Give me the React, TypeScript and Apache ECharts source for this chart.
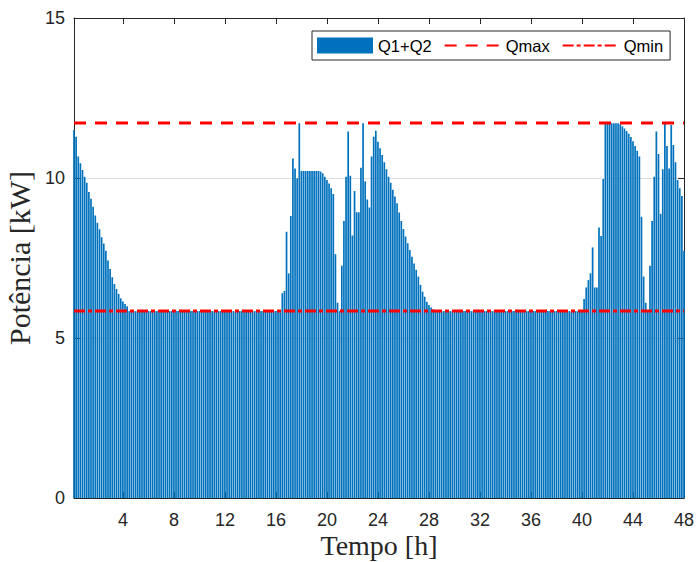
import React, { useEffect, useRef } from "react";
import * as echarts from "echarts";

// Q1+Q2 power per 10-minute step (kW), 288 steps over 48 h
const Q_SUM: number[] = [
  // 0-4.5 h decline
  11.50, 11.29, 10.67, 10.46, 10.25, 10.04, 9.85, 9.56, 9.35, 9.10, 8.83, 8.60, 8.40,
  8.15, 7.95, 7.73, 7.42, 7.16, 6.90, 6.69, 6.53, 6.38, 6.24, 6.14, 6.06, 5.99,
  // baseline (bars 27-98)
  5.84, 5.84, 5.84, 5.84, 5.84, 5.84, 5.84, 5.84, 5.84, 5.84, 5.84, 5.84,
  5.84, 5.84, 5.84, 5.84, 5.84, 5.84, 5.84, 5.84, 5.84, 5.84, 5.84, 5.84,
  5.84, 5.84, 5.84, 5.84, 5.84, 5.84, 5.84, 5.84, 5.84, 5.84, 5.84, 5.84,
  5.84, 5.84, 5.84, 5.84, 5.84, 5.84, 5.84, 5.84, 5.84, 5.84, 5.84, 5.84,
  5.84, 5.84, 5.84, 5.84, 5.84, 5.84, 5.84, 5.84, 5.84, 5.84, 5.84, 5.84,
  5.84, 5.84, 5.84, 5.84, 5.84, 5.84, 5.84, 5.84, 5.84, 5.84, 5.84, 5.84,
  // 16.5-28.5 h
  6.40, 6.47, 8.32, 7.02, 8.81, 10.61, 10.30, 9.99, 11.71,
  10.22, 10.22, 10.22, 10.22, 10.22, 10.22, 10.22, 10.22, 10.22, 10.20,
  10.15, 10.04, 9.94, 9.83, 9.68, 9.50, 7.62, 6.10, 5.84,
  7.26, 8.66, 10.04, 11.45, 10.07, 8.20, 9.59, 8.93, 8.93, 10.32, 11.71, 9.89,
  9.33, 9.08, 10.67, 11.29, 11.48, 11.13, 10.93, 10.72, 10.49, 10.27, 10.04,
  9.85, 9.63, 9.42, 9.21, 8.92, 8.66, 8.41, 8.17, 7.96, 7.75, 7.54, 7.33,
  7.13, 6.92, 6.66, 6.45, 6.29, 6.13, 6.03, 5.95, 5.90,
  // baseline (bars 171-240)
  5.84, 5.84, 5.84, 5.84, 5.84, 5.84, 5.84, 5.84, 5.84, 5.84,
  5.84, 5.84, 5.84, 5.84, 5.84, 5.84, 5.84, 5.84, 5.84, 5.84,
  5.84, 5.84, 5.84, 5.84, 5.84, 5.84, 5.84, 5.84, 5.84, 5.84,
  5.84, 5.84, 5.84, 5.84, 5.84, 5.84, 5.84, 5.84, 5.84, 5.84,
  5.84, 5.84, 5.84, 5.84, 5.84, 5.84, 5.84, 5.84, 5.84, 5.84,
  5.84, 5.84, 5.84, 5.84, 5.84, 5.84, 5.84, 5.84, 5.84, 5.84,
  5.84, 5.84, 5.84, 5.84, 5.84, 5.84, 5.84, 5.84, 5.84, 5.84,
  // 40-48 h
  6.22, 6.58, 6.81, 7.02, 7.83, 6.58, 6.58, 8.45, 8.19, 9.97,
  11.71, 11.71, 11.71, 11.71, 11.71, 11.71, 11.71,
  11.68, 11.62, 11.55, 11.47, 11.38, 11.28, 11.15, 11.00, 10.85, 10.67,
  8.79, 6.92, 6.10, 5.84, 7.26, 8.66, 10.04, 11.45, 10.75, 8.88, 10.27,
  11.71, 11.00, 10.30, 11.66, 11.03, 10.49, 9.94, 9.68, 9.44, 7.73,
];

const Q_MAX = 11.72;
const Q_MIN = 5.84;
const X_MIN = 1 / 6;
const X_MAX = 48;
const X_TICKS = [4, 8, 12, 16, 20, 24, 28, 32, 36, 40, 44, 48];
const Y_TICKS = [0, 5, 10, 15];

const TIME: number[] = Q_SUM.map((_, i) => (i + 1) / 6);

const AXIS_COLOR = "#262626";
const SANS = "Liberation Sans, Arial, Helvetica, sans-serif";
const SERIF = "Liberation Serif, Times New Roman, serif";

export default function App() {
  const ref = useRef<HTMLDivElement>(null);

  useEffect(() => {
    if (!ref.current) return;
    const chart = echarts.init(ref.current, undefined, { renderer: "svg" });

    const baseX = {
      type: "value" as const,
      min: X_MIN,
      max: X_MAX,
      splitLine: { show: false },
      axisLine: { show: true, onZero: false, lineStyle: { color: AXIS_COLOR, width: 1 } },
      axisTick: {
        show: true,
        inside: true,
        length: 6,
        customValues: X_TICKS,
        lineStyle: { color: AXIS_COLOR, width: 1 },
      },
    };
    const baseY = {
      type: "value" as const,
      min: Y_TICKS[0],
      max: Y_TICKS[Y_TICKS.length - 1],
      interval: 5,
      axisLine: { show: true, lineStyle: { color: AXIS_COLOR, width: 1 } },
      axisTick: { show: true, inside: true, length: 6, lineStyle: { color: AXIS_COLOR, width: 1 } },
    };

    chart.setOption({
      animation: false,
      backgroundColor: "#ffffff",
      grid: {
        left: 74,
        right: 13,
        top: 18,
        bottom: 64,
        containLabel: false,
        outerBoundsMode: "none",
      },
      legend: {
        left: 312,
        top: 31,
        orient: "horizontal",
        itemWidth: 56,
        itemHeight: 16,
        itemGap: 12,
        padding: [6, 7, 6, 5],
        borderColor: AXIS_COLOR,
        borderWidth: 1,
        backgroundColor: "#ffffff",
        textStyle: { fontFamily: SANS, fontSize: 16.5, color: "#000000" },
        data: [
          { name: "Q1+Q2", icon: "rect" },
          { name: "Qmax", itemStyle: { opacity: 0 } },
          { name: "Qmin", itemStyle: { opacity: 0 } },
        ],
      },
      xAxis: [
        {
          ...baseX,
          position: "bottom",
          axisLabel: {
            show: true,
            customValues: X_TICKS,
            fontFamily: SANS,
            fontSize: 18,
            color: AXIS_COLOR,
            margin: 13,
          },
          name: "Tempo [h]",
          nameLocation: "middle",
          nameGap: 33,
          nameMoveOverlap: false,
          nameTextStyle: {
            fontFamily: SERIF,
            fontSize: 28,
            color: AXIS_COLOR,
          },
        },
        {
          ...baseX,
          position: "top",
          axisLabel: { show: false },
        },
      ],
      yAxis: [
        {
          ...baseY,
          position: "left",
          axisLabel: { show: true, fontFamily: SANS, fontSize: 18, color: AXIS_COLOR, margin: 9 },
          splitLine: { show: true, lineStyle: { color: "#dedede", width: 1 } },
          name: "Potência [kW]",
          nameLocation: "middle",
          nameGap: 32,
          nameTextStyle: { fontFamily: SERIF, fontSize: 30, color: AXIS_COLOR },
        },
        {
          ...baseY,
          position: "right",
          axisLabel: { show: false },
          splitLine: { show: false },
        },
      ],
      series: [
        {
          name: "Q1+Q2",
          type: "bar",
          xAxisIndex: 0,
          yAxisIndex: 0,
          barWidth: 1.7,
          itemStyle: { color: "#0072BD" },
          data: TIME.map((t, i) => [t, Q_SUM[i]]),
        },
        {
          name: "Qmax",
          type: "line",
          xAxisIndex: 0,
          yAxisIndex: 0,
          symbol: "none",
          z: 5,
          lineStyle: { color: "#ff0000", width: 3, type: [12, 9] },
          itemStyle: { color: "#ff0000" },
          data: [
            [X_MIN, Q_MAX],
            [X_MAX, Q_MAX],
          ],
        },
        {
          name: "Qmin",
          type: "line",
          xAxisIndex: 0,
          yAxisIndex: 0,
          symbol: "none",
          z: 5,
          lineStyle: { color: "#ff0000", width: 3, type: [11, 3, 4, 3] },
          itemStyle: { color: "#ff0000" },
          data: [
            [X_MIN, Q_MIN],
            [X_MAX, Q_MIN],
          ],
        },
      ],
    });

    return () => chart.dispose();
  }, []);

  return (
    <div
      ref={ref}
      style={{ position: "fixed", left: 0, top: 0, width: 697, height: 562, background: "#fff" }}
    />
  );
}
